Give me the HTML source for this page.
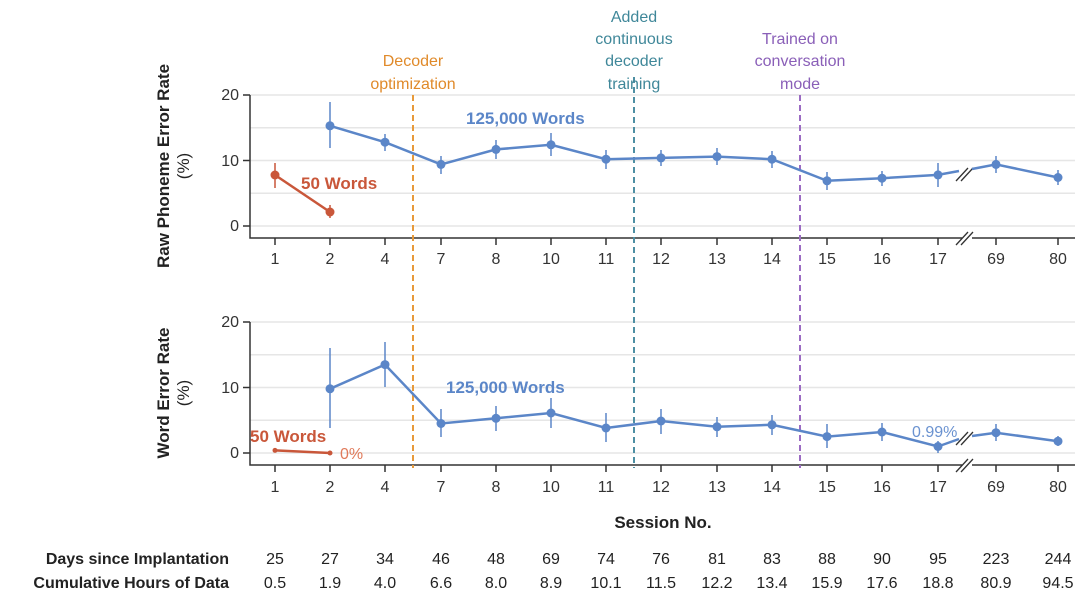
<!DOCTYPE html>
<html><head><meta charset="utf-8"><style>
body{margin:0;background:#fff}
svg{display:block;font-family:"Liberation Sans",sans-serif}
.g{stroke:#e6e6e6;stroke-width:1.5}
.ax{stroke:#333;stroke-width:1.5;fill:none}
.tl{font-size:16px;fill:#333}
.b{stroke:#5b86c8;stroke-width:2.5;fill:none}
.be{stroke:#5b86c8;stroke-width:1.5}
.r{stroke:#c9573a;stroke-width:2.5;fill:none}
.re{stroke:#c9573a;stroke-width:1.5}
</style></head><body>
<svg width="1080" height="600" viewBox="0 0 1080 600">
<g class="g">
<line x1="250" x2="1075" y1="226" y2="226"/><line x1="250" x2="1075" y1="193.3" y2="193.3"/><line x1="250" x2="1075" y1="160.5" y2="160.5"/><line x1="250" x2="1075" y1="127.8" y2="127.8"/><line x1="250" x2="1075" y1="95" y2="95"/>
<line x1="250" x2="1075" y1="453" y2="453"/><line x1="250" x2="1075" y1="420.3" y2="420.3"/><line x1="250" x2="1075" y1="387.5" y2="387.5"/><line x1="250" x2="1075" y1="354.8" y2="354.8"/><line x1="250" x2="1075" y1="322" y2="322"/>
</g>
<path class="ax" d="M250 95V238H1075M243 95H250M243 160.5H250M243 226H250"/>
<path class="ax" d="M250 322V465H1075M243 322H250M243 387.5H250M243 453H250"/>
<g class="ax">
<path d="M275 238v7M330 238v7M385 238v7M441 238v7M496 238v7M551 238v7M606 238v7M661 238v7M717 238v7M772 238v7M827 238v7M882 238v7M938 238v7M996 238v7M1058 238v7"/>
<path d="M275 465v7M330 465v7M385 465v7M441 465v7M496 465v7M551 465v7M606 465v7M661 465v7M717 465v7M772 465v7M827 465v7M882 465v7M938 465v7M996 465v7M1058 465v7"/>
</g>
<g stroke="#fff" stroke-width="6"><line x1="962" x2="972" y1="238" y2="238"/><line x1="962" x2="972" y1="465" y2="465"/></g>
<g stroke="#333" stroke-width="1.3">
<line x1="956" y1="245" x2="968" y2="232"/><line x1="961" y1="245" x2="973" y2="232"/>
<line x1="956" y1="472" x2="968" y2="459"/><line x1="961" y1="472" x2="973" y2="459"/>
<line x1="956" y1="181" x2="968" y2="168"/><line x1="961" y1="181" x2="973" y2="168"/>
<line x1="956" y1="445" x2="968" y2="432"/><line x1="961" y1="445" x2="973" y2="432"/>
</g>
<g class="tl" text-anchor="end">
<text x="239" y="100">20</text><text x="239" y="166">10</text><text x="239" y="231">0</text>
<text x="239" y="327">20</text><text x="239" y="393">10</text><text x="239" y="458">0</text>
</g>
<g class="tl" text-anchor="middle">
<text x="275" y="264">1</text><text x="330" y="264">2</text><text x="385" y="264">4</text><text x="441" y="264">7</text><text x="496" y="264">8</text><text x="551" y="264">10</text><text x="606" y="264">11</text><text x="661" y="264">12</text><text x="717" y="264">13</text><text x="772" y="264">14</text><text x="827" y="264">15</text><text x="882" y="264">16</text><text x="938" y="264">17</text><text x="996" y="264">69</text><text x="1058" y="264">80</text>
<text x="275" y="492">1</text><text x="330" y="492">2</text><text x="385" y="492">4</text><text x="441" y="492">7</text><text x="496" y="492">8</text><text x="551" y="492">10</text><text x="606" y="492">11</text><text x="661" y="492">12</text><text x="717" y="492">13</text><text x="772" y="492">14</text><text x="827" y="492">15</text><text x="882" y="492">16</text><text x="938" y="492">17</text><text x="996" y="492">69</text><text x="1058" y="492">80</text>
</g>
<g font-weight="bold" font-size="17" fill="#222" text-anchor="middle">
<text transform="translate(169,166) rotate(-90)">Raw Phoneme Error Rate</text>
<text transform="translate(189,166) rotate(-90)" font-weight="normal">(%)</text>
<text transform="translate(169,393) rotate(-90)">Word Error Rate</text>
<text transform="translate(189,393) rotate(-90)" font-weight="normal">(%)</text>
<text x="663" y="528">Session No.</text>
</g>
<line x1="413" x2="413" y1="95" y2="468" stroke="#e89a3a" stroke-width="2" stroke-dasharray="6,4"/>
<line x1="634" x2="634" y1="77" y2="468" stroke="#4e8fa3" stroke-width="2" stroke-dasharray="6,4"/>
<line x1="800" x2="800" y1="95" y2="468" stroke="#9b6bc3" stroke-width="2" stroke-dasharray="6,4"/>
<g font-size="16" text-anchor="middle">
<text x="413" y="66" fill="#e08a2a">Decoder</text><text x="413" y="89" fill="#e08a2a">optimization</text>
<text x="634" y="22" fill="#3f8799">Added</text><text x="634" y="44" fill="#3f8799">continuous</text><text x="634" y="66" fill="#3f8799">decoder</text><text x="634" y="89" fill="#3f8799">training</text>
<text x="800" y="44" fill="#8a5fb8">Trained on</text><text x="800" y="66" fill="#8a5fb8">conversation</text><text x="800" y="89" fill="#8a5fb8">mode</text>
</g>
<path class="be" d="M330 102V148M385 134V151M441 156V174M496 140V159M551 133V156M606 150V169M661 150V166M717 148V165M772 151V168M827 172V190M882 171V186M938 163V187M996 156V173M1058 170V185"/>
<polyline class="b" points="330,125.8 385,142.2 441,164.4 496,149.4 551,144.8 606,159.2 661,157.9 717,156.6 772,159.2 827,180.8 882,178.2 938,174.9 959,171"/>
<polyline class="b" points="972,169 996,164.4 1058,177.5"/>
<g fill="#5b86c8"><circle cx="330" cy="125.8" r="4.5"/><circle cx="385" cy="142.2" r="4.5"/><circle cx="441" cy="164.4" r="4.5"/><circle cx="496" cy="149.4" r="4.5"/><circle cx="551" cy="144.8" r="4.5"/><circle cx="606" cy="159.2" r="4.5"/><circle cx="661" cy="157.9" r="4.5"/><circle cx="717" cy="156.6" r="4.5"/><circle cx="772" cy="159.2" r="4.5"/><circle cx="827" cy="180.8" r="4.5"/><circle cx="882" cy="178.2" r="4.5"/><circle cx="938" cy="174.9" r="4.5"/><circle cx="996" cy="164.4" r="4.5"/><circle cx="1058" cy="177.5" r="4.5"/></g>
<path class="re" d="M275 163V188M330 205V218"/>
<polyline class="r" points="275,175 330,212"/>
<g fill="#c9573a"><circle cx="275" cy="175" r="4.5"/><circle cx="330" cy="212" r="4.5"/></g>
<text x="301" y="189" font-size="17" font-weight="bold" fill="#c9573a">50 Words</text>
<text x="466" y="124" font-size="17" font-weight="bold" fill="#5b86c8">125,000 Words</text>
<path class="be" d="M330 348V428M385 342V387M441 409V437M496 406V431M551 398V428M606 413V442M661 409V434M717 417V437M772 415V435M827 424V448M882 423V441M938 441V453M996 424V441M1058 436V446"/>
<polyline class="b" points="330,388.8 385,364.6 441,423.5 496,418.3 551,413 606,428 661,421 717,426.8 772,424.8 827,436.6 882,432 938,446.5 959,439"/>
<polyline class="b" points="972,436 996,432.7 1058,441.2"/>
<g fill="#5b86c8"><circle cx="330" cy="388.8" r="4.5"/><circle cx="385" cy="364.6" r="4.5"/><circle cx="441" cy="423.5" r="4.5"/><circle cx="496" cy="418.3" r="4.5"/><circle cx="551" cy="413" r="4.5"/><circle cx="606" cy="428" r="4.5"/><circle cx="661" cy="421" r="4.5"/><circle cx="717" cy="426.8" r="4.5"/><circle cx="772" cy="424.8" r="4.5"/><circle cx="827" cy="436.6" r="4.5"/><circle cx="882" cy="432" r="4.5"/><circle cx="938" cy="446.5" r="4.5"/><circle cx="996" cy="432.7" r="4.5"/><circle cx="1058" cy="441.2" r="4.5"/></g>
<polyline class="r" points="275,450.4 330,453" stroke-width="2"/>
<g fill="#c9573a"><circle cx="275" cy="450.4" r="2.5"/><circle cx="330" cy="453" r="2.5"/></g>
<text x="250" y="442" font-size="17" font-weight="bold" fill="#c9573a">50 Words</text>
<text x="340" y="459" font-size="16" fill="#e07a5a">0%</text>
<text x="446" y="393" font-size="17" font-weight="bold" fill="#5b86c8">125,000 Words</text>
<text x="912" y="437" font-size="16" fill="#6a92d0">0.99%</text>
<g font-size="16" fill="#222">
<text x="229" y="564" text-anchor="end" font-weight="bold">Days since Implantation</text>
<text x="229" y="588" text-anchor="end" font-weight="bold">Cumulative Hours of Data</text>
<g text-anchor="middle">
<text x="275" y="564">25</text><text x="330" y="564">27</text><text x="385" y="564">34</text><text x="441" y="564">46</text><text x="496" y="564">48</text><text x="551" y="564">69</text><text x="606" y="564">74</text><text x="661" y="564">76</text><text x="717" y="564">81</text><text x="772" y="564">83</text><text x="827" y="564">88</text><text x="882" y="564">90</text><text x="938" y="564">95</text><text x="996" y="564">223</text><text x="1058" y="564">244</text>
<text x="275" y="588">0.5</text><text x="330" y="588">1.9</text><text x="385" y="588">4.0</text><text x="441" y="588">6.6</text><text x="496" y="588">8.0</text><text x="551" y="588">8.9</text><text x="606" y="588">10.1</text><text x="661" y="588">11.5</text><text x="717" y="588">12.2</text><text x="772" y="588">13.4</text><text x="827" y="588">15.9</text><text x="882" y="588">17.6</text><text x="938" y="588">18.8</text><text x="996" y="588">80.9</text><text x="1058" y="588">94.5</text>
</g></g>
</svg>
</body></html>
